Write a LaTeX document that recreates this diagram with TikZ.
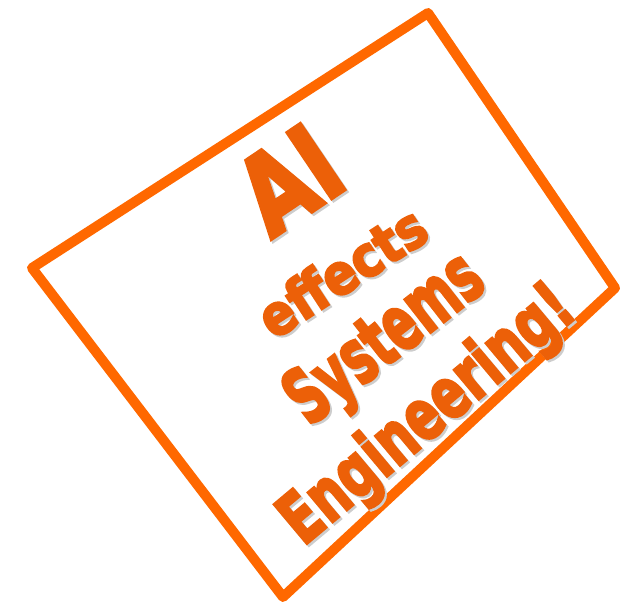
\documentclass[tikz,border=0pt]{standalone}
\usepackage{fontspec}
\newfontfamily\wordfont{DejaVu Sans}[BoldFeatures={FakeBold=4}]
\definecolor{rim}{RGB}{255,104,0}
\definecolor{ink}{RGB}{236,96,8}
\definecolor{shade}{RGB}{205,205,205}
\newcommand{\wordtxt}[3]{\scalebox{#2}[1]{\fontsize{#1}{#1}\selectfont #3}}
\begin{document}
\begin{tikzpicture}[x=1pt,y=-1pt,
  rimline/.style={draw=rim,line width=10pt,line join=round},
  word/.style={anchor=base,inner sep=0pt,text=ink,font=\wordfont\bfseries},
  wshadow/.style={anchor=base,inner sep=0pt,text=shade,font=\wordfont\bfseries}]
\useasboundingbox (0,0) rectangle (641,609);
\coordinate (c1) at (32,268);
\coordinate (c2) at (428,13);
\coordinate (c3) at (615,288);
\coordinate (c4) at (283,597);
\draw[rimline] (c1) -- (c2) -- (c3) -- (c4) -- cycle;
% soft shadows
\node[wshadow,rotate=34] (ais) at (313,214) {\wordtxt{108}{0.78}{AI}};
\node[wshadow,rotate=33] (effs) at (355,291) {\wordtxt{56}{0.88}{effects}};
\node[wshadow,rotate=38] (syss) at (401,359) {\wordtxt{76}{0.63}{Systems}};
\node[wshadow,rotate=40] (engs) at (443,433) {\wordtxt{70}{0.71}{Engineering!}};
% words
\node[word,rotate=34] (ai) at (311,212) {\wordtxt{108}{0.78}{AI}};
\node[word,rotate=33] (eff) at (353,289) {\wordtxt{56}{0.88}{effects}};
\node[word,rotate=38] (sys) at (399,357) {\wordtxt{76}{0.63}{Systems}};
\node[word,rotate=40] (eng) at (441,431) {\wordtxt{70}{0.71}{Engineering!}};
\end{tikzpicture}
\end{document}
